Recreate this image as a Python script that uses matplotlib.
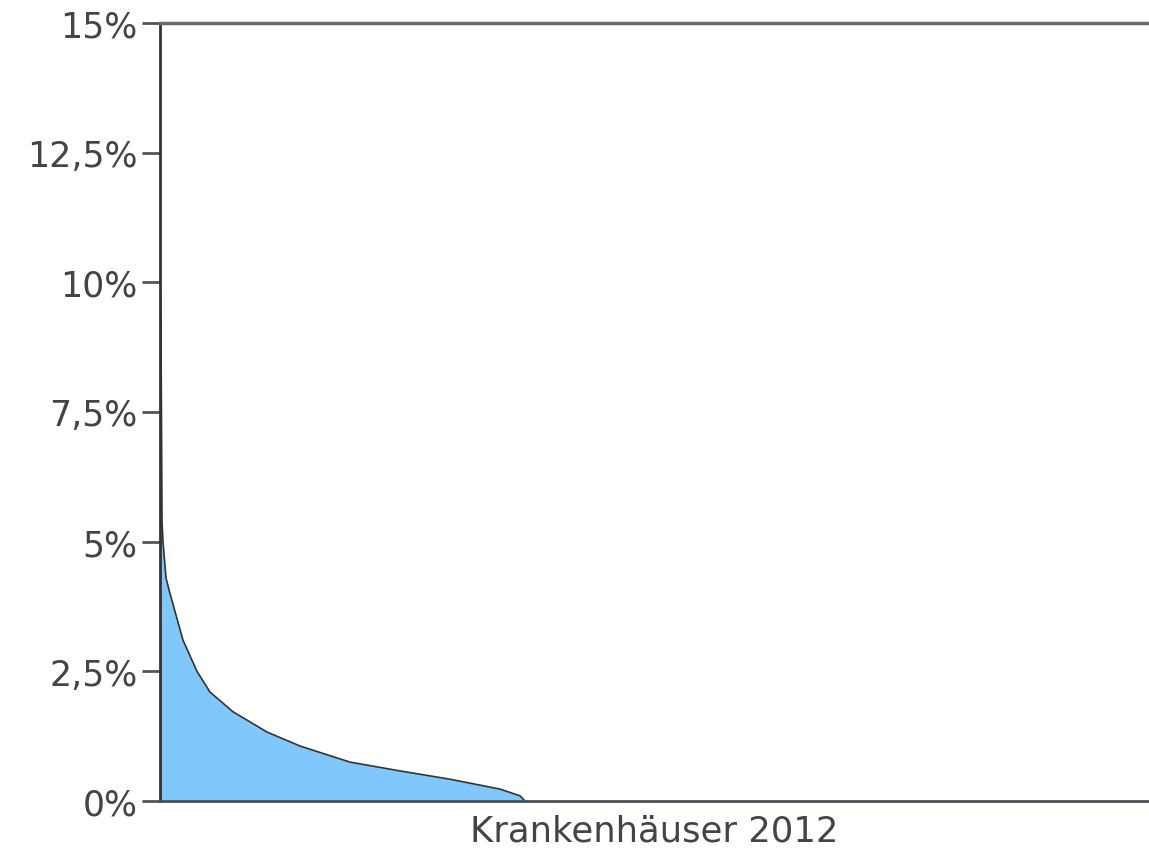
import matplotlib
matplotlib.use("Agg")
import matplotlib.pyplot as plt

# Hospital rank (arbitrary units along x axis) and share in %
rank = [0, 1, 2, 3, 6, 10, 23, 37, 50, 73, 107, 140, 190, 240, 290, 340, 360, 365]
share = [10.2, 9.1, 5.4, 5.0, 4.3, 4.0, 3.1, 2.5, 2.1, 1.72, 1.33, 1.06, 0.75, 0.58, 0.42, 0.23, 0.1, 0.0]

yticks = [0, 2.5, 5, 7.5, 10, 12.5, 15]
ytick_labels = ["0%", "2,5%", "5%", "7,5%", "10%", "12,5%", "15%"]
xlabel = "Krankenhäuser 2012"

W, H = 1149, 854
fig = plt.figure(figsize=(W / 100, H / 100), dpi=100)
ax = fig.add_axes([160 / W, (H - 802) / H, (W - 160) / W, (802 - 24) / H])

ax.fill_between(rank, share, 0, color="#80c8fc", linewidth=0)
ax.plot(rank, share, color="#333333", linewidth=1.2)

ax.set_xlim(0, 989)
ax.set_ylim(0, 15)
ax.set_yticks(yticks)
ax.set_yticklabels(ytick_labels, fontsize=25, color="#444444")
ax.tick_params(axis="y", length=13, width=2, color="#555555", pad=3)
ax.set_xticks([])
ax.set_xlabel(xlabel, fontsize=25.5, color="#444444", labelpad=9)

ax.spines["right"].set_visible(False)
ax.spines["left"].set_color("#333333")
ax.spines["left"].set_linewidth(2)
ax.spines["bottom"].set_color("#4a5058")
ax.spines["bottom"].set_linewidth(2)
ax.spines["top"].set_color("#6a6a6a")
ax.spines["top"].set_linewidth(2.5)

fig.savefig("out.png", dpi=100)
